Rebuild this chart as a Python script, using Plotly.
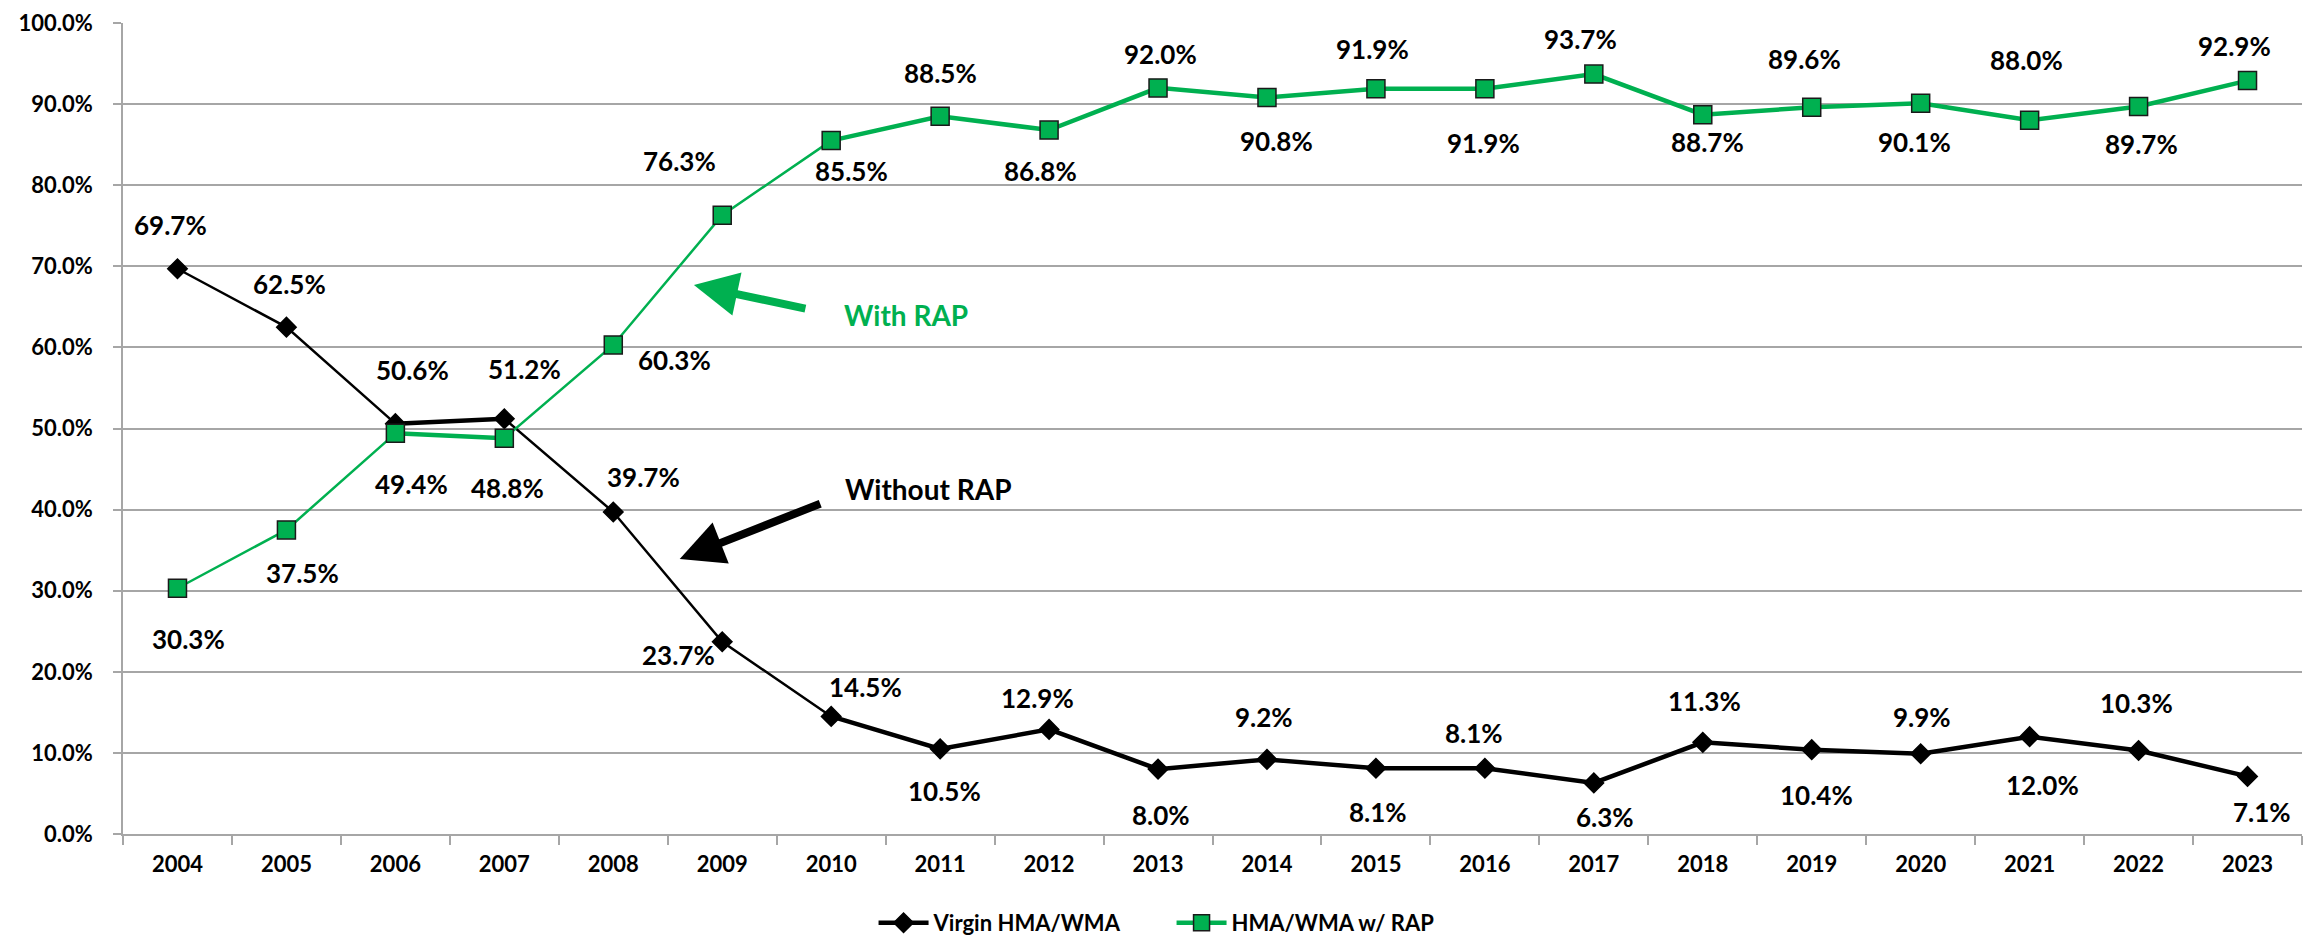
import plotly.graph_objects as go

years = [str(y) for y in range(2004, 2024)]
virgin = [69.7, 62.5, 50.6, 51.2, 39.7, 23.7, 14.5, 10.5, 12.9, 8.0, 9.2, 8.1, 8.1, 6.3, 11.3, 10.4, 9.9, 12.0, 10.3, 7.1]
with_rap = [30.3, 37.5, 49.4, 48.8, 60.3, 76.3, 85.5, 88.5, 86.8, 92.0, 90.8, 91.9, 91.9, 93.7, 88.7, 89.6, 90.1, 88.0, 89.7, 92.9]

# label offsets in pixels (dx right, dy down) - styling only
virgin_off = [(-7, -44), (3, -43), (17, -54), (20, -50), (30, -35), (-44, 13), (34, -29), (4, 42),
              (-12, -31), (3, 46), (-3, -42), (2, 44), (-11, -35), (11, 34), (2, -41), (5, 45),
              (1, -37), (13, 48), (-2, -47), (14, 36)]
rap_off = [(11, 51), (16, 43), (16, 51), (3, 50), (61, 15), (-43, -54), (20, 30), (0, -43),
           (-9, 41), (2, -34), (10, 43), (-3, -40), (-1, 54), (-13, -35), (5, 27), (-7, -48),
           (-6, 39), (-3, -60), (3, 37), (-13, -35)]

BLACK = "#000000"
GREEN = "#00B050"
GRID = "#A6A6A6"
FONT = "Lato"

fig = go.Figure()

def add_series(vals, color, name, symbol, msize, mline):
    # thin and thick segments as in the original
    segs = [(0, 3, 2.5), (2, 4, 4.5), (3, 7, 2.5), (6, 20, 4.5)]
    for a, b, w in segs:
        fig.add_trace(go.Scatter(x=years[a:b], y=vals[a:b], mode="lines",
                                 line=dict(color=color, width=w), showlegend=False,
                                 hoverinfo="skip"))
    fig.add_trace(go.Scatter(x=years, y=vals, mode="markers", showlegend=False,
                             marker=dict(symbol=symbol, size=msize, color=color,
                                         line=dict(color=mline, width=1.5))))
    # legend entry
    fig.add_trace(go.Scatter(x=years[:1], y=[None], mode="lines+markers", name=name,
                             line=dict(color=color, width=4.5),
                             marker=dict(symbol=symbol, size=msize, color=color,
                                         line=dict(color=mline, width=1.5))))

add_series(virgin, BLACK, "Virgin HMA/WMA", "diamond", 15, BLACK)
add_series(with_rap, GREEN, "HMA/WMA w/ RAP", "square", 18, "#1A1A1A")

annotations = []
for vals, offs in ((virgin, virgin_off), (with_rap, rap_off)):
    for i, (v, (dx, dy)) in enumerate(zip(vals, offs)):
        annotations.append(dict(x=i, y=v, xref="x", yref="y", text=f"{v:.1f}%",
                                showarrow=False, xshift=dx, yshift=-dy,
                                font=dict(family=FONT, size=26, color=BLACK, weight="bold")))

# arrows
annotations.append(dict(x=4.74, y=67.7, xref="x", yref="y", ax=113, ay=24, text="",
                        showarrow=True, arrowhead=2, arrowsize=1.1, arrowwidth=8,
                        arrowcolor=GREEN, standoff=0))
annotations.append(dict(x=4.61, y=33.9, xref="x", yref="y", ax=142, ay=-56, text="",
                        showarrow=True, arrowhead=2, arrowsize=1.1, arrowwidth=8,
                        arrowcolor=BLACK, standoff=0))
annotations.append(dict(x=6.10, y=64.0, xref="x", yref="y", text="With RAP", showarrow=False,
                        xanchor="left", yanchor="middle",
                        font=dict(family=FONT, size=28, color=GREEN, weight="bold")))
annotations.append(dict(x=6.11, y=42.5, xref="x", yref="y", text="Without RAP", showarrow=False,
                        xanchor="left", yanchor="middle",
                        font=dict(family=FONT, size=28, color=BLACK, weight="bold")))

# page body has an 8px margin; figure is sized/margined to compensate
fig.update_layout(
    width=2302, height=928,
    margin=dict(l=115, r=8, t=15, b=102, autoexpand=False),
    paper_bgcolor="white", plot_bgcolor="white",
    font=dict(family=FONT, size=22, color=BLACK, weight="bold"),
    annotations=annotations,
    legend=dict(orientation="h", xref="container", yref="container", x=0.376, y=0.014,
                xanchor="left", yanchor="middle", font=dict(family=FONT, size=22, weight="bold"),
                itemwidth=50, entrywidth=233, entrywidthmode="pixels", tracegroupgap=0),
    showlegend=True,
)
fig.update_xaxes(type="category", categoryorder="array", categoryarray=years,
                 range=[-0.5, len(years) - 0.5], autorange=False, automargin=False,
                 tickson="boundaries", ticks="outside", ticklen=9,
                 tickcolor=GRID, tickwidth=1.5, showline=True, linecolor=GRID, linewidth=1.5,
                 showgrid=False, ticklabelstandoff=10, tickangle=0,
                 tickfont=dict(family=FONT, size=22, weight="bold"))
fig.update_yaxes(range=[0, 100], dtick=10, tickformat=".1f", ticksuffix="%",
                 ticks="outside", ticklen=8, tickcolor=GRID, tickwidth=1.5,
                 showline=True, linecolor=GRID, linewidth=1.5, automargin=False,
                 showgrid=True, gridcolor=GRID, gridwidth=1.5, zeroline=False,
                 ticklabelstandoff=16, ticklabeloverflow="allow",
                 tickfont=dict(family=FONT, size=22, weight="bold"))

fig.write_html("out.html")
